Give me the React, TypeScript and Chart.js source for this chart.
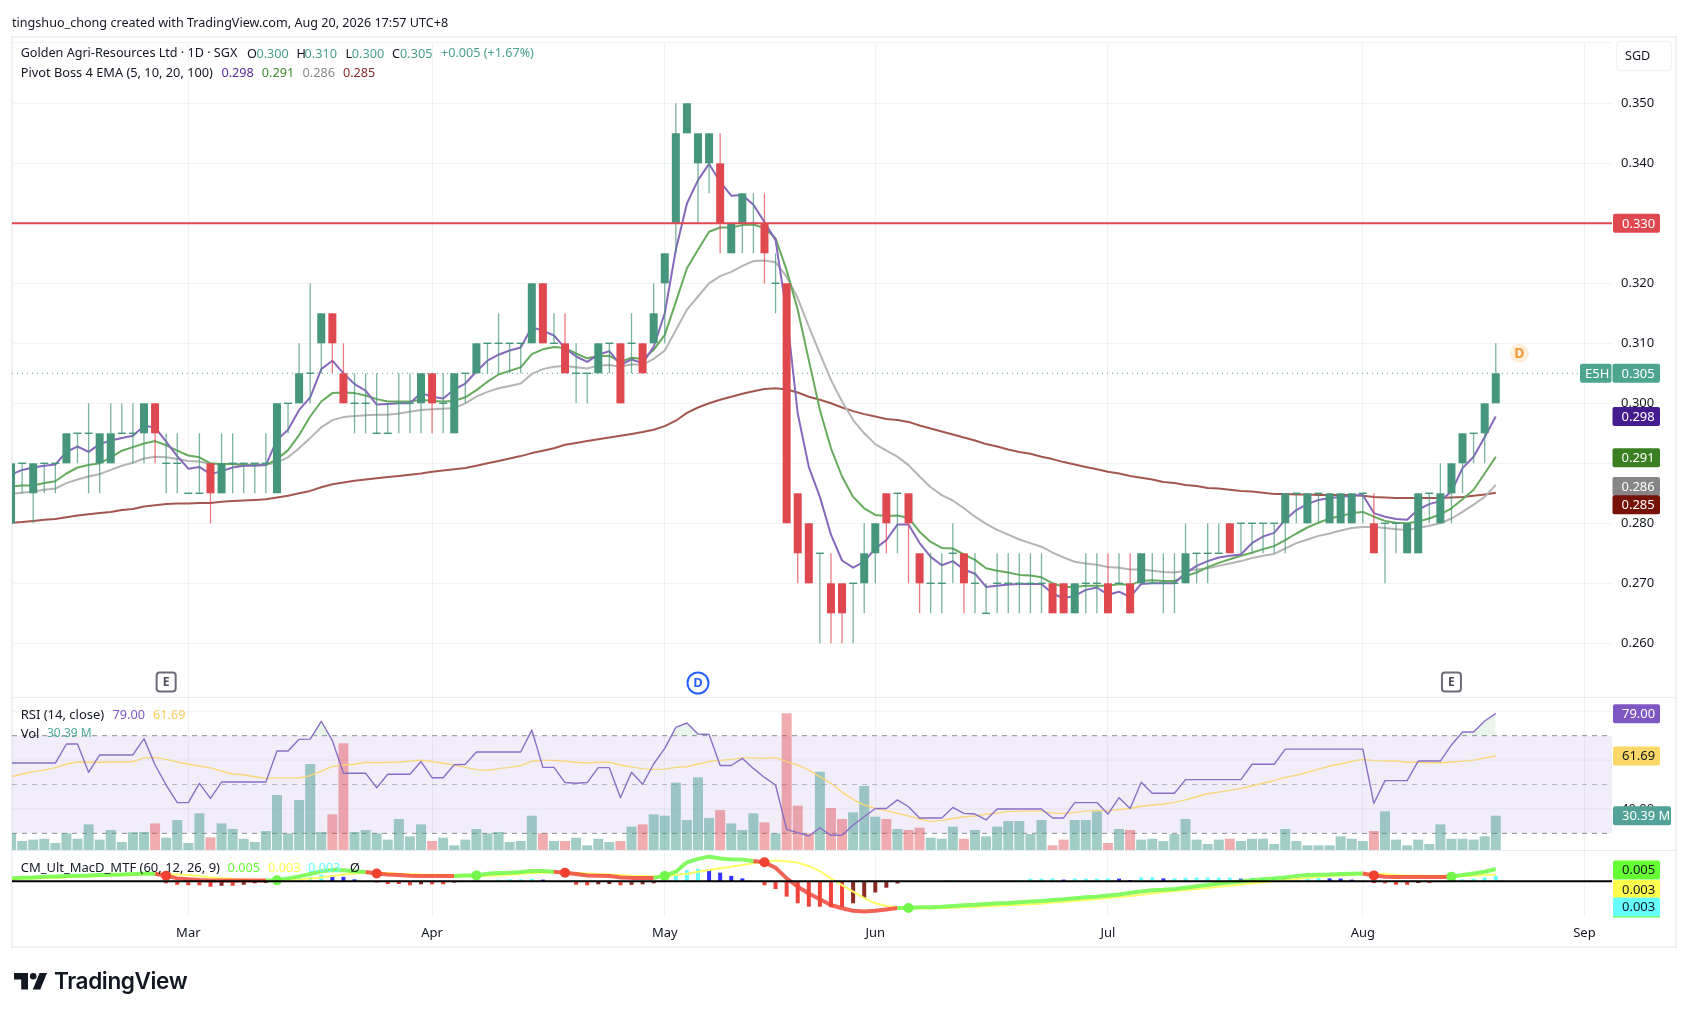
import React, { useEffect, useRef } from "react";
import { Chart, registerables } from "chart.js";

Chart.register(...registerables);

const opens = [
  .280,.290,.285,.290,.290,.290,.295,.295,.290,.290,
  .295,.295,.295,.300,.290,.290,.285,.285,.290,.285,
  .290,.290,.290,.290,.285,.300,.300,.305,.310,.315,
  .305,.300,.300,.295,.295,.300,.300,.300,.305,.300,
  .295,.305,.305,.310,.310,.310,.310,.310,.320,.310,
  .310,.305,.305,.305,.310,.310,.310,.310,.310,.320,
  .330,.345,.340,.340,.340,.325,.330,.330,.330,.320,
  .320,.285,.280,.275,.270,.270,.270,.270,.275,.285,
  .285,.285,.275,.270,.270,.275,.275,.270,.265,.270,
  .270,.270,.270,.270,.270,.270,.265,.270,.270,.270,
  .270,.270,.270,.270,.270,.270,.270,.275,.275,.275,
  .280,.280,.280,.280,.280,.280,.285,.280,.285,.280,
  .280,.280,.285,.280,.280,.280,.275,.275,.285,.280,
  .285,.290,.295,.295,.300];
const highs = [
  .290,.290,.290,.290,.290,.295,.295,.300,.295,.300,
  .300,.300,.300,.300,.295,.295,.285,.295,.290,.295,
  .295,.290,.290,.295,.300,.300,.310,.320,.315,.315,
  .310,.305,.305,.305,.300,.305,.305,.305,.305,.305,
  .305,.305,.310,.310,.315,.310,.310,.320,.320,.315,
  .315,.310,.305,.310,.310,.310,.315,.310,.320,.325,
  .350,.350,.345,.345,.345,.330,.335,.335,.335,.325,
  .320,.285,.280,.275,.275,.270,.270,.280,.280,.285,
  .285,.285,.275,.275,.275,.280,.275,.275,.270,.275,
  .275,.275,.275,.275,.270,.270,.270,.275,.275,.275,
  .275,.275,.275,.275,.275,.275,.280,.275,.280,.280,
  .280,.280,.280,.280,.280,.285,.285,.285,.285,.285,
  .285,.285,.285,.285,.280,.280,.280,.285,.285,.290,
  .290,.295,.295,.300,.310];
const lows = [
  .280,.285,.280,.285,.285,.290,.290,.285,.285,.290,
  .295,.290,.290,.290,.285,.285,.285,.285,.280,.285,
  .285,.285,.285,.285,.285,.295,.300,.300,.305,.305,
  .300,.295,.295,.295,.295,.295,.295,.295,.295,.295,
  .295,.300,.305,.305,.305,.305,.305,.310,.310,.310,
  .305,.300,.300,.305,.305,.300,.305,.305,.310,.310,
  .325,.345,.330,.335,.325,.325,.325,.325,.320,.315,
  .280,.270,.270,.260,.260,.260,.260,.265,.270,.275,
  .275,.270,.265,.265,.265,.270,.265,.265,.265,.265,
  .265,.265,.265,.265,.265,.265,.265,.265,.265,.265,
  .270,.265,.270,.270,.265,.265,.270,.270,.270,.275,
  .275,.275,.275,.275,.275,.275,.280,.280,.280,.280,
  .280,.280,.280,.275,.270,.275,.275,.275,.280,.280,
  .280,.285,.290,.290,.300];
const closes = [
  .290,.290,.290,.290,.290,.295,.295,.295,.295,.295,
  .295,.295,.300,.295,.290,.290,.285,.285,.285,.290,
  .290,.290,.290,.290,.300,.300,.305,.305,.315,.310,
  .300,.300,.300,.295,.295,.300,.300,.305,.300,.300,
  .305,.305,.310,.310,.310,.310,.310,.320,.310,.310,
  .305,.305,.305,.310,.310,.300,.310,.305,.315,.325,
  .345,.350,.345,.345,.330,.330,.335,.330,.325,.320,
  .280,.275,.270,.275,.265,.265,.270,.275,.280,.280,
  .285,.280,.270,.270,.270,.275,.270,.270,.265,.270,
  .270,.270,.270,.270,.265,.265,.270,.270,.270,.265,
  .270,.265,.275,.270,.270,.270,.275,.275,.275,.275,
  .275,.280,.280,.280,.280,.285,.285,.285,.285,.285,
  .285,.285,.285,.275,.280,.280,.280,.285,.285,.285,
  .290,.295,.295,.300,.305];

const ema5 = [
  .2881,.2889,.2893,.2896,.2898,.2919,.2928,.2919,.2932,.2938,
  .2942,.2946,.2962,.2960,.2936,.2912,.2891,.2894,.2882,.2887,
  .2893,.2896,.2896,.2897,.2939,.2956,.2989,.3010,.3057,.3071,
  .3050,.3032,.3021,.2998,.2999,.3000,.3000,.3017,.3011,.3008,
  .3023,.3033,.3053,.3071,.3081,.3088,.3093,.3127,.3121,.3113,
  .3092,.3078,.3069,.3081,.3087,.3064,.3073,.3067,.3094,.3150,
  .3256,.3333,.3372,.3399,.3369,.3346,.3347,.3331,.3302,.3272,
  .3150,.2983,.2894,.2844,.2781,.2738,.2726,.2736,.2758,.2772,
  .2798,.2798,.2767,.2744,.2730,.2737,.2723,.2716,.2694,.2696,
  .2698,.2699,.2699,.2699,.2683,.2675,.2679,.2689,.2693,.2681,
  .2686,.2677,.2699,.2700,.2700,.2700,.2717,.2729,.2737,.2743,
  .2746,.2748,.2767,.2778,.2784,.2806,.2822,.2832,.2839,.2842,
  .2844,.2846,.2847,.2817,.2811,.2807,.2806,.2823,.2832,.2837,
  .2853,.2892,.2911,.2944,.2978];
const ema10 = [
  .2861,.2863,.2863,.2867,.2870,.2883,.2893,.2897,.2900,.2910,
  .2921,.2927,.2933,.2937,.2930,.2921,.2913,.2910,.2900,.2899,
  .2899,.2897,.2897,.2897,.2907,.2922,.2947,.2978,.3003,.3017,
  .3018,.3017,.3013,.3007,.3003,.3003,.3003,.3006,.3004,.3003,
  .3004,.3010,.3022,.3036,.3048,.3054,.3060,.3082,.3090,.3094,
  .3092,.3083,.3075,.3079,.3079,.3069,.3076,.3074,.3089,.3114,
  .3169,.3225,.3256,.3286,.3293,.3293,.3297,.3298,.3292,.3275,
  .3222,.3156,.3072,.2989,.2925,.2878,.2844,.2825,.2814,.2812,
  .2813,.2809,.2786,.2769,.2759,.2758,.2748,.2739,.2725,.2721,
  .2718,.2714,.2713,.2710,.2700,.2694,.2694,.2696,.2696,.2696,
  .2699,.2697,.2704,.2705,.2704,.2704,.2712,.2718,.2727,.2734,
  .2740,.2746,.2751,.2757,.2762,.2772,.2783,.2793,.2801,.2808,
  .2812,.2817,.2819,.2811,.2804,.2801,.2800,.2803,.2808,.2815,
  .2825,.2840,.2856,.2883,.2911];
const ema20 = [
  .2849,.2851,.2853,.2856,.2858,.2867,.2873,.2878,.2882,.2889,
  .2896,.2901,.2908,.2911,.2910,.2907,.2904,.2903,.2899,.2899,
  .2899,.2898,.2898,.2898,.2901,.2910,.2925,.2942,.2960,.2972,
  .2977,.2979,.2980,.2981,.2981,.2983,.2986,.2989,.2990,.2991,
  .2992,.3000,.3011,.3019,.3025,.3029,.3033,.3049,.3057,.3061,
  .3062,.3060,.3058,.3063,.3064,.3061,.3065,.3064,.3074,.3088,
  .3122,.3156,.3178,.3200,.3212,.3219,.3229,.3237,.3238,.3235,
  .3211,.3175,.3128,.3083,.3039,.3003,.2972,.2950,.2932,.2921,
  .2911,.2897,.2878,.2860,.2847,.2838,.2825,.2811,.2799,.2789,
  .2781,.2773,.2767,.2761,.2751,.2743,.2736,.2733,.2731,.2727,
  .2726,.2723,.2723,.2721,.2719,.2718,.2721,.2723,.2725,.2729,
  .2733,.2737,.2742,.2746,.2749,.2758,.2767,.2773,.2779,.2783,
  .2788,.2792,.2794,.2794,.2792,.2790,.2789,.2792,.2796,.2800,
  .2808,.2819,.2831,.2844,.2864];
const ema100 = [
  .2801,.2802,.2804,.2806,.2807,.2810,.2813,.2815,.2817,.2819,
  .2822,.2824,.2828,.2830,.2832,.2833,.2833,.2834,.2834,.2836,
  .2837,.2838,.2839,.2840,.2843,.2846,.2850,.2854,.2860,.2865,
  .2868,.2871,.2873,.2875,.2877,.2879,.2881,.2883,.2886,.2888,
  .2890,.2892,.2896,.2900,.2904,.2908,.2912,.2917,.2921,.2925,
  .2931,.2934,.2937,.2940,.2943,.2946,.2949,.2952,.2956,.2962,
  .2971,.2984,.2993,.3000,.3006,.3011,.3016,.3020,.3024,.3025,
  .3023,.3018,.3011,.3006,.3000,.2993,.2987,.2982,.2978,.2974,
  .2972,.2969,.2963,.2958,.2953,.2948,.2943,.2938,.2932,.2928,
  .2923,.2919,.2916,.2911,.2907,.2902,.2898,.2894,.2890,.2886,
  .2883,.2879,.2876,.2873,.2869,.2867,.2864,.2862,.2859,.2858,
  .2856,.2854,.2853,.2851,.2849,.2849,.2848,.2848,.2847,.2847,
  .2847,.2847,.2846,.2844,.2843,.2842,.2842,.2842,.2842,.2842,
  .2843,.2844,.2846,.2848,.2851];

const rsi = [
  58.8,58.8,58.8,58.8,58.8,66.6,66.6,55.0,62.1,62.1,
  62.1,62.1,68.8,58.0,49.8,42.6,42.6,50.5,44.3,51.0,
  51.0,51.0,51.0,51.0,63.7,63.7,68.5,68.6,75.9,68.0,
  54.6,54.6,54.6,48.7,54.2,54.2,54.2,59.4,52.8,52.8,
  58.1,58.3,63.3,63.3,63.3,63.3,63.3,72.3,57.0,57.0,
  50.8,50.5,50.8,56.9,56.9,44.6,55.0,50.1,58.4,64.8,
  73.4,75.2,70.7,70.5,57.8,57.8,60.7,56.6,52.9,49.8,
  31.6,30.3,28.9,32.3,29.2,29.2,33.4,36.8,40.2,40.2,
  43.7,40.9,36.3,36.3,36.3,40.6,38.2,37.9,35.5,40.0,
  40.0,40.0,40.0,40.0,36.3,36.3,42.6,42.6,42.6,37.9,
  44.6,40.2,50.9,46.4,46.4,46.4,52.0,52.0,52.0,52.0,
  52.0,52.0,58.3,58.3,58.3,64.5,64.5,64.5,64.5,64.5,
  64.5,64.5,64.5,42.3,51.6,51.6,51.6,59.6,59.6,59.6,
  66.2,71.5,71.5,76.0,79.0];
const rsiMa = [
  53.2,54.3,55.3,55.9,56.9,58.4,59.2,59.1,59.1,59.2,
  59.2,59.4,60.9,61.1,60.3,59.2,58.3,57.6,56.8,55.5,
  54.3,54.0,53.2,52.5,52.7,52.7,52.7,53.6,55.5,57.4,
  58.0,58.3,59.1,58.9,59.1,59.2,59.6,60.0,59.4,58.7,
  58.0,57.0,56.1,55.8,56.5,57.0,57.7,59.5,59.9,59.9,
  59.5,59.1,58.8,59.1,59.1,58.0,57.2,56.5,56.2,56.3,
  57.0,57.3,58.4,59.4,59.9,60.3,60.9,60.9,60.7,61.0,
  59.4,58.0,55.9,53.2,50.5,46.8,43.9,41.6,40.2,39.3,
  38.2,37.1,35.9,34.9,35.3,36.1,36.8,37.1,37.8,38.3,
  38.9,39.1,39.1,39.1,38.3,38.1,38.6,39.1,39.4,39.3,
  39.7,40.2,41.1,41.6,42.0,42.7,43.7,45.0,46.2,46.9,
  47.6,48.4,49.5,50.5,51.6,52.9,53.8,55.0,56.3,57.6,
  58.4,59.5,60.3,59.8,59.6,59.6,59.1,59.1,58.9,58.9,
  59.2,59.6,60.0,60.9,61.69];
const volumeM = [
  14.8,8.0,9.2,10.0,6.2,14.8,10.0,22.7,9.2,17.7,
  7.1,15.7,16.0,23.6,10.9,26.6,6.2,32.5,11.2,23.6,
  18.6,10.0,7.1,16.8,48.7,14.8,44.3,76.2,16.0,31.6,
  94.5,16.0,17.7,14.8,9.2,27.5,12.1,22.7,8.0,10.9,
  4.1,9.2,18.6,14.8,16.0,7.1,8.0,30.4,14.8,8.0,
  8.0,10.9,4.1,10.0,7.1,8.0,20.7,22.7,31.6,30.4,
  59.7,26.6,64.4,28.4,35.4,23.6,17.7,32.5,24.5,14.8,
  121.1,39.3,14.8,69.4,37.2,27.5,33.4,56.7,29.5,27.5,
  18.6,17.7,19.8,10.9,10.0,20.7,10.0,17.7,12.1,20.7,
  25.7,25.7,14.2,26.6,4.1,9.2,26.6,26.6,34.3,6.2,
  18.6,17.7,9.2,10.0,8.0,14.2,27.5,9.2,5.3,9.2,
  10.0,8.0,10.0,10.0,5.3,18.6,8.0,4.1,4.1,4.1,
  12.1,10.0,8.0,16.8,34.3,9.2,4.1,9.2,5.3,22.7,
  10.0,10.0,9.2,12.1,30.39];

const macd = [
  .0012,.0015,.0016,.0019,.0020,.0022,.0023,.0024,.0026,.0027,
  .0028,.0030,.0031,.0031,.0023,.0012,.0008,.0005,.0003,.0003,
  .0003,.0003,.0003,.0003,.0004,.0012,.0020,.0030,.0041,.0046,
  .0045,.0041,.0038,.0032,.0028,.0026,.0023,.0022,.0022,.0022,
  .0022,.0024,.0024,.0031,.0034,.0035,.0038,.0042,.0042,.0039,
  .0035,.0030,.0024,.0023,.0022,.0016,.0014,.0014,.0014,.0022,
  .0039,.0077,.0091,.0100,.0093,.0089,.0088,.0082,.0077,.0055,
  .0012,-.0022,-.0049,-.0073,-.0096,-.0109,-.0119,-.0122,-.0119,-.0114,
  -.0108,-.0108,-.0105,-.0105,-.0103,-.0100,-.0097,-.0095,-.0092,-.0089,
  -.0088,-.0085,-.0082,-.0080,-.0076,-.0073,-.0069,-.0065,-.0062,-.0057,
  -.0053,-.0046,-.0041,-.0036,-.0034,-.0031,-.0026,-.0020,-.0015,-.0009,
  -.0005,-.0001,.0004,.0008,.0012,.0016,.0022,.0026,.0027,.0028,
  .0030,.0031,.0032,.0024,.0019,.0018,.0018,.0018,.0018,.0018,
  .0019,.0026,.0032,.0039,.0050];
const signal = [
  .0008,.0011,.0012,.0014,.0015,.0016,.0019,.0020,.0022,.0024,
  .0026,.0028,.0030,.0031,.0030,.0028,.0026,.0022,.0016,.0012,
  .0009,.0007,.0005,.0004,.0003,.0004,.0007,.0011,.0016,.0022,
  .0028,.0032,.0035,.0035,.0034,.0031,.0030,.0028,.0027,.0026,
  .0024,.0023,.0022,.0023,.0024,.0027,.0030,.0034,.0035,.0036,
  .0036,.0034,.0032,.0030,.0028,.0026,.0023,.0022,.0020,.0022,
  .0026,.0031,.0039,.0046,.0053,.0059,.0066,.0073,.0080,.0084,
  .0081,.0076,.0062,.0041,.0012,-.0015,-.0042,-.0068,-.0089,-.0100,
  -.0105,-.0108,-.0109,-.0109,-.0108,-.0107,-.0105,-.0104,-.0101,-.0099,
  -.0097,-.0096,-.0093,-.0091,-.0086,-.0084,-.0080,-.0076,-.0072,-.0068,
  -.0064,-.0059,-.0054,-.0049,-.0043,-.0039,-.0035,-.0031,-.0027,-.0022,
  -.0018,-.0014,-.0008,-.0004,.0000,.0005,.0009,.0014,.0018,.0022,
  .0024,.0027,.0030,.0031,.0030,.0026,.0024,.0023,.0022,.0020,
  .0020,.0022,.0023,.0026,.0028];
const hist = [
  null,null,null,null,null,null,null,null,null,null,
  null,null,null,null,-.0008,-.0014,-.0016,-.0016,-.0022,-.0018,
  -.0018,-.0014,-.0008,-.0007,null,.0001,.0014,.0018,.0026,.0024,
  .0018,.0008,.0001,-.0005,-.0011,-.0011,-.0016,-.0012,-.0012,-.0012,
  -.0005,null,null,null,.0007,.0008,.0008,.0011,.0007,null,
  -.0003,-.0014,-.0016,-.0012,-.0011,-.0016,-.0014,-.0012,-.0008,.0016,
  .0030,.0045,.0050,.0049,.0035,.0022,.0012,null,-.0016,-.0031,
  -.0062,-.0089,-.0103,-.0103,-.0105,-.0105,-.0089,-.0066,-.0045,-.0026,
  -.0009,null,null,null,null,.0005,null,null,null,null,
  .0005,.0005,.0011,.0011,.0012,.0007,.0011,.0011,.0011,.0012,
  .0011,.0005,.0016,.0016,.0012,.0012,.0015,.0015,.0015,.0015,
  .0015,.0011,.0014,.0016,.0016,.0012,.0012,.0016,.0016,.0012,
  .0011,.0007,null,-.0007,-.0008,-.0014,-.0014,-.0007,-.0007,-.0003,
  null,.0008,.0011,.0016,.0022];

const crossIdx = [14, 24, 33, 42, 50, 59, 68, 81, 123, 130];
const priceTicks = [0.26, 0.27, 0.28, 0.29, 0.30, 0.31, 0.32, 0.33, 0.34, 0.35];
const monthIdx = [16, 38, 59, 78, 99, 122, 142];
const monthLabels = ["Mar", "Apr", "May", "Jun", "Jul", "Aug", "Sep"];
const resistance = 0.33;
const lastPrice = 0.305;
const earningsIdx = [14, 130];
const dividendIdx = 62;
const upcomingDivIdx = 136;
const rsiLevels = [70, 50, 30];
const rsiGrid = [80, 60, 40];

const FONT = '"Noto Sans", sans-serif';
const UP = "#45967d";
const DOWN = "#e04850";
const X_MIN = 0.087;
const X_MAX = 144.49;
const xy = (arr: (number | null)[]) => arr.map((y, x) => ({ x, y }));
const hline = (y: number) => [{ x: X_MIN, y }, { x: X_MAX, y }];

function tag(ctx: any, x0: number, x1: number, y: number, bg: string, fg: string, text: string) {
  ctx.fillStyle = bg;
  ctx.beginPath();
  ctx.roundRect(x0, y - 9.5, x1 - x0, 19, 2);
  ctx.fill();
  ctx.fillStyle = fg;
  ctx.font = `13px ${FONT}`;
  ctx.textAlign = "left";
  ctx.textBaseline = "middle";
  ctx.fillText(text, x0 + (x1 - x0 > 40 ? 9 : 5), y + 0.5);
}

const panesPlugin = {
  id: "panes",
  beforeDatasetsDraw(chart: any) {
    const { ctx } = chart;
    ctx.save();
    ctx.strokeStyle = "#e9ebf1";
    ctx.lineWidth = 1;
    for (const y of [697.5, 850.5]) {
      ctx.beginPath();
      ctx.moveTo(12, y);
      ctx.lineTo(1675, y);
      ctx.stroke();
    }
    ctx.strokeStyle = "#f2f3f7";
    ctx.beginPath();
    ctx.moveTo(12, 42.5);
    ctx.lineTo(1612, 42.5);
    ctx.stroke();
    ctx.strokeStyle = "#f0f1f5";
    ctx.lineWidth = 2;
    ctx.strokeRect(12, 37, 1664, 910);
    ctx.restore();
  },
  afterDraw(chart: any) {
    const { ctx, scales } = chart;
    const { x, y, yR, yV, yM } = scales;
    ctx.save();
    // RSI scale label that survives beside the tags
    ctx.fillStyle = "#131722";
    ctx.font = `13px ${FONT}`;
    ctx.textAlign = "left";
    ctx.textBaseline = "middle";
    ctx.fillText("40.00", 1621, yR.getPixelForValue(40));

    tag(ctx, 1613, 1660, y.getPixelForValue(resistance), DOWN, "#fff", "0.330");
    tag(ctx, 1580, 1611.5, y.getPixelForValue(lastPrice), "#4ea58f", "#fff", "E5H");
    tag(ctx, 1612.5, 1660, y.getPixelForValue(lastPrice), "#4ea58f", "#fff", "0.305");
    tag(ctx, 1612.5, 1660, y.getPixelForValue(ema5[134]), "#451c8f", "#fff", "0.298");
    tag(ctx, 1612.5, 1660, y.getPixelForValue(ema10[134]) + 1, "#3a7f21", "#fff", "0.291");
    tag(ctx, 1612.5, 1660, y.getPixelForValue(ema20[134]) + 1.5, "#868686", "#fff", "0.286");
    tag(ctx, 1612.5, 1660, y.getPixelForValue(ema100[134]) + 12, "#761208", "#fff", "0.285");

    tag(ctx, 1613, 1660, yR.getPixelForValue(rsi[134]), "#7e57c2", "#fff", "79.00");
    tag(ctx, 1613, 1660, yR.getPixelForValue(rsiMa[134]), "#fbd866", "#131722", "61.69");
    tag(ctx, 1613, 1671, yV.getPixelForValue(volumeM[134]), "#52a297", "#fff", "30.39 M");

    // the empty-value tag of the MACD legend peeks out below the cyan one
    ctx.fillStyle = "#66ff33";
    ctx.fillRect(1613, 916, 47, 1.5);
    tag(ctx, 1613, 1660, yM.getPixelForValue(macd[134]) + 1, "#66ff33", "#131722", "0.005");
    tag(ctx, 1613, 1660, yM.getPixelForValue(signal[134]) + 15, "#ffff4d", "#131722", "0.003");
    tag(ctx, 1613, 1660, yM.getPixelForValue(hist[134] as number) + 31, "#66ffff", "#131722", "0.003");

    // event markers under the candles
    const markerY = 682;
    for (const i of earningsIdx) {
      const px = x.getPixelForValue(i);
      ctx.fillStyle = "#fff";
      ctx.strokeStyle = "#6a6d78";
      ctx.lineWidth = 2;
      ctx.beginPath();
      ctx.roundRect(px - 9.5, markerY - 9.5, 19, 19, 3);
      ctx.fill();
      ctx.stroke();
      ctx.fillStyle = "#4a4d58";
      ctx.font = `bold 12px ${FONT}`;
      ctx.textAlign = "center";
      ctx.fillText("E", px, markerY + 0.5);
    }
    const dx = x.getPixelForValue(dividendIdx);
    ctx.strokeStyle = "#2962ff";
    ctx.lineWidth = 2;
    ctx.beginPath();
    ctx.arc(dx, markerY + 1, 10.5, 0, Math.PI * 2);
    ctx.fillStyle = "#fff";
    ctx.fill();
    ctx.stroke();
    ctx.fillStyle = "#2962ff";
    ctx.font = `bold 13px ${FONT}`;
    ctx.textAlign = "center";
    ctx.fillText("D", dx, markerY + 1.5);

    const ox = x.getPixelForValue(upcomingDivIdx) + 1.5;
    const oy = y.getPixelForValue(0.3083);
    ctx.fillStyle = "#fdefdc";
    ctx.beginPath();
    ctx.arc(ox, oy, 9.5, 0, Math.PI * 2);
    ctx.fill();
    ctx.fillStyle = "#f09a37";
    ctx.font = `bold 14px ${FONT}`;
    ctx.fillText("D", ox, oy + 0.5);
    ctx.restore();
  },
};

function Txt({ x, y, c = "#131722", size = 12.7, children }: any) {
  return (
    <span
      style={{
        position: "absolute",
        left: x,
        top: y - 10,
        height: 20,
        lineHeight: "20px",
        fontFamily: FONT,
        fontSize: size,
        color: c,
        whiteSpace: "pre",
      }}
    >
      {children}
    </span>
  );
}

export default function App() {
  const ref = useRef<HTMLCanvasElement | null>(null);
  useEffect(() => {
    const wick = closes.map((c, x) => ({ x, y: [lows[x], highs[x]] }));
    const body = closes.map((c, x) => {
      const a = Math.min(opens[x], c);
      const b = Math.max(opens[x], c);
      return { x, y: a === b ? [a - 0.00012, b + 0.00012] : [a, b] };
    });
    const candleColor = closes.map((c, i) => (c < opens[i] ? DOWN : UP));
    const volColor = closes.map((c, i) => (c < opens[i] ? "rgba(224,72,80,0.45)" : "rgba(69,156,144,0.5)"));
    const histColor = hist.map((h, i) => {
      const prev = i > 0 ? hist[i - 1] ?? 0 : 0;
      if (h === null) return "transparent";
      if (h >= 0) return h >= prev ? "#66ffff" : "#3333ff";
      return h <= prev ? "#f0433a" : "#8b2c24";
    });
    const barBase = { type: "bar", grouped: false, barPercentage: 1, categoryPercentage: 1, inflateAmount: 0, borderWidth: 0 };
    const lineBase = { type: "line", pointRadius: 0, tension: 0, fill: false, borderJoinStyle: "round" };
    const chart = new Chart(ref.current as HTMLCanvasElement, {
      type: "bar",
      data: {
        datasets: [
          { ...lineBase, label: "RSI band", yAxisID: "yR", data: hline(70), order: 100, borderColor: "#8a8d96", borderWidth: 1, borderDash: [5, 5], fill: { value: 30 }, backgroundColor: "rgba(126,87,194,0.1)" },
          { ...lineBase, label: "RSI 50", yAxisID: "yR", data: hline(rsiLevels[1]), order: 99, borderColor: "rgba(120,123,134,0.5)", borderWidth: 1, borderDash: [5, 5] },
          { ...lineBase, label: "RSI 30", yAxisID: "yR", data: hline(rsiLevels[2]), order: 99, borderColor: "#8a8d96", borderWidth: 1, borderDash: [5, 5] },
          ...rsiGrid.map((v) => ({ ...lineBase, label: `RSI grid ${v}`, yAxisID: "yR", data: hline(v), order: 98, borderColor: "rgba(42,46,57,0.06)", borderWidth: 1 })),
          { ...barBase, label: "Vol", yAxisID: "yV", data: xy(volumeM), order: 90, backgroundColor: volColor, maxBarThickness: 10 },
          { ...lineBase, label: "RSI MA", yAxisID: "yR", data: xy(rsiMa), order: 80, borderColor: "#f7d77a", borderWidth: 1.4 },
          { ...lineBase, label: "RSI", yAxisID: "yR", data: xy(rsi), order: 79, borderColor: "#8a6fc6", borderWidth: 1.4, fill: { value: 70, above: "rgba(76,175,80,0.12)", below: "rgba(0,0,0,0)" } },

          { ...lineBase, label: "Last", yAxisID: "y", data: hline(lastPrice), order: 70, borderColor: "#4ea58f", borderWidth: 1, borderDash: [1, 4] },
          { ...lineBase, label: "EMA100", yAxisID: "y", data: xy(ema100), order: 64, borderColor: "#a4574f", borderWidth: 2 },
          { ...lineBase, label: "EMA20", yAxisID: "y", data: xy(ema20), order: 63, borderColor: "#b4b4b4", borderWidth: 2 },
          { ...lineBase, label: "EMA10", yAxisID: "y", data: xy(ema10), order: 62, borderColor: "#66ab5e", borderWidth: 2 },
          { ...lineBase, label: "EMA5", yAxisID: "y", data: xy(ema5), order: 61, borderColor: "#8668bd", borderWidth: 2 },
          { ...barBase, label: "Wick", yAxisID: "y", data: wick, order: 50, backgroundColor: candleColor.map((c) => (c === UP ? "rgba(69,150,125,0.72)" : "rgba(224,72,80,0.72)")), maxBarThickness: 1.3 },
          { ...barBase, label: "Body", yAxisID: "y", data: body, order: 49, backgroundColor: candleColor, maxBarThickness: 8 },
          { ...lineBase, label: "Resistance", yAxisID: "y", data: hline(resistance), order: 48, borderColor: DOWN, borderWidth: 2 },

          { ...barBase, label: "Histogram", yAxisID: "yM", data: xy(hist).filter((p) => p.y !== null), order: 30, backgroundColor: histColor.filter((c) => c !== "transparent"), maxBarThickness: 4 },
          { ...lineBase, label: "Signal", yAxisID: "yM", data: xy(signal), order: 28, borderColor: "#ffff66", borderWidth: 2 },
          {
            ...lineBase,
            label: "MACD",
            yAxisID: "yM",
            data: xy(macd),
            order: 27,
            borderWidth: 4,
            borderColor: "rgba(110,250,70,0.85)",
            segment: { borderColor: (c: any) => (macd[c.p1DataIndex] >= signal[c.p1DataIndex] ? "rgba(110,250,70,0.85)" : "rgba(240,70,55,0.85)") },
          },
          {
            type: "line",
            label: "Cross",
            yAxisID: "yM",
            showLine: false,
            data: crossIdx.map((i) => ({ x: i, y: macd[i] })),
            order: 26,
            pointRadius: 5,
            pointBorderWidth: 0,
            pointBackgroundColor: crossIdx.map((_, k) => (k % 2 === 0 ? "#f0402f" : "#72f74a")),
          },
          { ...lineBase, label: "Zero", yAxisID: "yM", data: hline(0), order: 25, borderColor: "#000", borderWidth: 2 },
        ] as any,
      },
      options: {
        animation: false,
        responsive: false,
        devicePixelRatio: 1,
        events: [],
        layout: { padding: { left: 12, top: 42, right: 12, bottom: 64 } },
        plugins: { legend: { display: false }, tooltip: { enabled: false } },
        scales: {
          x: {
            type: "linear",
            min: X_MIN,
            max: X_MAX,
            offset: false,
            afterBuildTicks: (s: any) => { s.ticks = monthIdx.map((value) => ({ value })); },
            afterFit: (s: any) => { s.height = 31; },
            grid: { color: "rgba(42,46,57,0.06)", drawTicks: false, offset: false },
            border: { display: false },
            ticks: {
              autoSkip: false,
              maxRotation: 0,
              padding: 8,
              color: "#131722",
              font: { family: FONT, size: 13 },
              callback: (_v: any, i: number) => monthLabels[i],
            },
          },
          y: {
            type: "linear",
            position: "right",
            min: 0.21438,
            max: 0.36022,
            afterBuildTicks: (s: any) => { s.ticks = priceTicks.map((value) => ({ value })); },
            afterFit: (s: any) => { s.width = 64; },
            grid: { color: "rgba(42,46,57,0.06)", drawTicks: false },
            border: { display: false },
            ticks: {
              autoSkip: false,
              padding: 9,
              color: "#131722",
              font: { family: FONT, size: 13 },
              callback: (v: any) => Number(v).toFixed(3),
            },
          },
          yR: { type: "linear", display: false, min: -4.26, max: 354.1 },
          yV: { type: "linear", display: false, min: -59.36, max: 715.9, beginAtZero: false },
          yM: { type: "linear", display: false, min: -0.014459, max: 0.34023 },
        },
      } as any,
      plugins: [panesPlugin],
    } as any);
    return () => chart.destroy();
  }, []);

  return (
    <div style={{ position: "fixed", left: 0, top: 0, width: 1688, height: 1012, background: "#fff", overflow: "hidden", filter: "blur(0.35px)" }}>
      <canvas ref={ref} width={1688} height={1012} style={{ display: "block", width: 1688, height: 1012 }} />
      <Txt x={12} y={23} size={12.6}>tingshuo_chong created with TradingView.com, Aug 20, 2026 17:57 UTC+8</Txt>

      <Txt x={20.7} y={53} size={12.6}>Golden Agri-Resources Ltd · 1D · SGX</Txt>
      <Txt x={247} y={53}>O</Txt>
      <Txt x={256.4} y={53} c="#4ba08f">0.300</Txt>
      <Txt x={296.4} y={53}>H</Txt>
      <Txt x={304.6} y={53} c="#4ba08f">0.310</Txt>
      <Txt x={345.4} y={53}>L</Txt>
      <Txt x={351.8} y={53} c="#4ba08f">0.300</Txt>
      <Txt x={392} y={53}>C</Txt>
      <Txt x={400} y={53} c="#4ba08f">0.305</Txt>
      <Txt x={441} y={53} c="#4ba08f" size={12.6}>+0.005 (+1.67%)</Txt>

      <Txt x={20.7} y={71.5} size={12.8}>Pivot Boss 4 EMA (5, 10, 20, 100)</Txt>
      <Txt x={221.4} y={71.5} c="#5b2ba0">0.298</Txt>
      <Txt x={261.8} y={71.5} c="#3c8c2d">0.291</Txt>
      <Txt x={302.5} y={71.5} c="#8c8c8c">0.286</Txt>
      <Txt x={342.9} y={71.5} c="#8a2b2b">0.285</Txt>

      <Txt x={20.7} y={714} size={13}>RSI (14, close)</Txt>
      <Txt x={112.5} y={714} c="#7e57c2">79.00</Txt>
      <Txt x={153} y={714} c="#f7cf5f">61.69</Txt>
      <Txt x={20.7} y={733} size={13}>Vol</Txt>
      <Txt x={47} y={733} c="#4ba89c" size={12}>30.39 M</Txt>

      <Txt x={20.7} y={867} size={13}>CM_Ult_MacD_MTF (60, 12, 26, 9)</Txt>
      <Txt x={227.5} y={867} c="#66ff33">0.005</Txt>
      <Txt x={268} y={867} c="#ffff4d">0.003</Txt>
      <Txt x={308} y={867} c="#66ffff">0.003</Txt>
      <Txt x={350} y={867}>Ø</Txt>

      <div style={{ position: "absolute", left: 1616, top: 41, width: 54, height: 28, border: "1.5px solid #eff1f5", borderRadius: 5 }} />
      <Txt x={1625} y={56} size={12.6}>SGD</Txt>

      <svg style={{ position: "absolute", left: 13.5, top: 972.5 }} width={33} height={17} viewBox="0 0 33 17">
        <path d="M0 0H14V16.5H7.2V6.6H0Z M25.6 0H33L26.3 16.5H18.8Z" fill="#131722" />
        <circle cx="19.2" cy="3.3" r="3.3" fill="#131722" />
      </svg>
      <span style={{ position: "absolute", left: 54, top: 964, lineHeight: "34px", fontFamily: "Inter, sans-serif", fontWeight: 600, fontSize: 22.6, color: "#131722", letterSpacing: "-0.4px" }}>TradingView</span>
    </div>
  );
}
